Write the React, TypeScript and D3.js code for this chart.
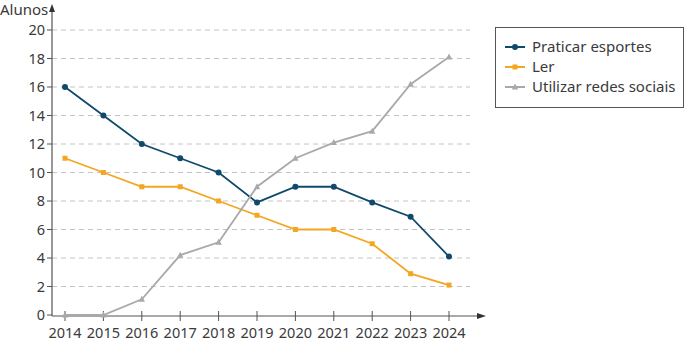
import React from "react";
import * as d3 from "d3";

const years = [2014, 2015, 2016, 2017, 2018, 2019, 2020, 2021, 2022, 2023, 2024];
const esportes = [16, 14, 12, 11, 10, 7.9, 9, 9, 7.9, 6.9, 4.1];
const ler = [11, 10, 9, 9, 8, 7, 6, 6, 5, 2.9, 2.1];
const redes = [0, 0, 1.1, 4.2, 5.1, 9, 11, 12.1, 12.9, 16.2, 18.1];
const yTicks = [0, 2, 4, 6, 8, 10, 12, 14, 16, 18, 20];
const seriesNames = ["Praticar esportes", "Ler", "Utilizar redes sociais"];
const colors = ["#0f4a6c", "#f4a622", "#a9a9a9"];

export default function App() {
  const W = 685, H = 348;
  const x = d3.scaleLinear().domain([2014, 2024]).range([65, 449]);
  const y = d3.scaleLinear().domain([0, 20]).range([315, 30]);
  const line = d3.line<number>().x((_, i) => x(years[i])).y((d) => y(d));
  const all = [esportes, ler, redes];
  const font = "'Noto Sans', sans-serif";
  const textColor = "#3a3a3a";
  const marker = (k: number, cx: number, cy: number, key: string) => {
    if (k === 0) return <circle key={key} cx={cx} cy={cy} r={3} fill={colors[0]} />;
    if (k === 1) return <rect key={key} x={cx - 2.5} y={cy - 2.5} width={5} height={5} fill={colors[1]} />;
    return <path key={key} d={`M${cx},${cy - 3.5}L${cx + 3.2},${cy + 2.5}L${cx - 3.2},${cy + 2.5}Z`} fill={colors[2]} />;
  };
  return (
    <svg width={W} height={H} style={{ position: "absolute", left: 0, top: 0, background: "#fff" }} fontFamily={font}>
      {yTicks.filter((t) => t > 0).map((t) => (
        <line key={"g" + t} x1={52} x2={470} y1={y(t)} y2={y(t)} stroke="#c4c4c4" strokeDasharray="5,4" strokeWidth={1} />
      ))}
      {/* axes */}
      <line x1={52} x2={52} y1={316} y2={10} stroke="#555" strokeWidth={1.2} />
      <path d="M52,4 L55,12 L49,12 Z" fill="#333" />
      <line x1={52} x2={478} y1={316} y2={316} stroke="#555" strokeWidth={1.2} />
      <path d="M486,316 L477,313 L477,319 Z" fill="#333" />
      {yTicks.map((t) => (
        <g key={"yt" + t}>
          <line x1={47} x2={52} y1={y(t)} y2={y(t)} stroke="#555" />
          <text x={45} y={y(t)} dy="0.35em" textAnchor="end" fontSize={14.5} fill={textColor}>{t}</text>
        </g>
      ))}
      {years.map((yr) => (
        <g key={"xt" + yr}>
          <line x1={x(yr)} x2={x(yr)} y1={311} y2={321} stroke="#555" />
          <text x={x(yr)} y={338} textAnchor="middle" fontSize={14.5} fill={textColor}>{yr}</text>
        </g>
      ))}
      <text x={0} y={15} fontSize={15} fill={textColor}>Alunos</text>
      {all.map((s, k) => (
        <g key={"s" + k}>
          <path d={line(s) || ""} fill="none" stroke={colors[k]} strokeWidth={1.8} />
          {s.map((v, i) => marker(k, x(years[i]), y(v), `m${k}-${i}`))}
        </g>
      ))}
      {/* legend */}
      <rect x={495.5} y={27.5} width={188} height={80} fill="#fff" stroke="#555" strokeWidth={1} />
      {seriesNames.map((n, k) => {
        const cy = 47 + k * 20;
        return (
          <g key={"l" + k}>
            <line x1={505} x2={525} y1={cy} y2={cy} stroke={colors[k]} strokeWidth={2} />
            {marker(k, 515, cy, "lm" + k)}
            <text x={532} y={cy} dy="0.35em" fontSize={15} fill={textColor}>{n}</text>
          </g>
        );
      })}
    </svg>
  );
}
